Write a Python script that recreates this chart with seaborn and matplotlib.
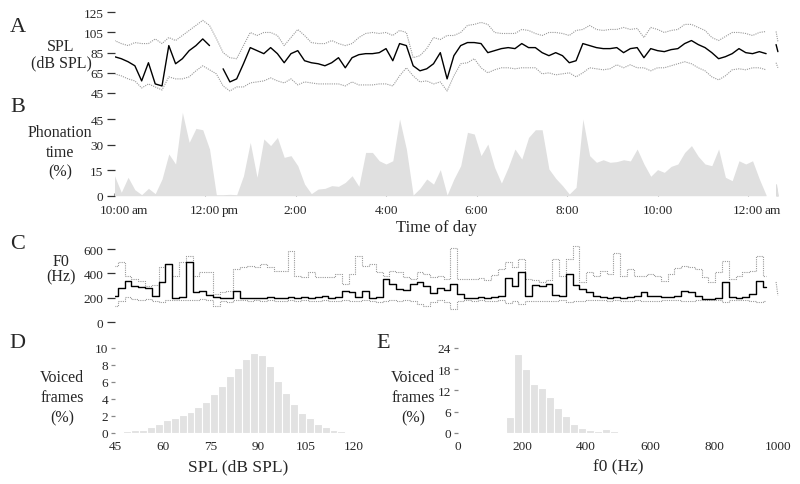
import numpy as np
import pandas as pd
import matplotlib
matplotlib.use('Agg')
import matplotlib.pyplot as plt
import seaborn as sns

# ---------------------------------------------------------------
# data
# ---------------------------------------------------------------
# day traces: one sample every 0.15 h starting at 10:00
t_start = 10.0
t_step = 0.15

# A: SPL (dB SPL) - median and dotted percentile bands
spl_median = [81, 79, 76, 72, 57, 75, 54, 52, 92, 74,
              79, 87, 92, 98.6, 92, np.nan, 69, 56, 59, 74,
              90, 87, 84, 90, 84, 75, 84, 87, 77, 75,
              74, 72, 75, 80, 70, 80, 83, 84, 84, 85,
              89, 77, 94, 92, 72, 67, 69, 74, 85, 59,
              82, 92, 95, 95, 94, 85, 87, 89, 90, 89,
              94, 90, 90, 85, 82, 85, 82, 75, 77, 94,
              92, 90, 89, 89, 90, 85, 89, 90, 80, 89,
              87, 86, 88, 89, 94, 97, 93, 90, 85, 79,
              81, 84, 89, 85, 84, 86, 84]
spl_upper = [97, 94, 92, 95, 94, 94, 98.6, 94, 100, 97,
             102, 107, 112, 117, 112, 99, 85, 80, 79, 92,
             105, 102, 105, 105, 102, 92, 100, 108, 102, 95,
             94, 94, 97, 94, 92, 94, 100, 104, 105, 104,
             105, 102, 107, 105, 80, 82, 89, 100, 98, 102,
             102, 105, 112, 113, 115, 113, 105, 104, 104, 104,
             108, 107, 104, 102, 105, 105, 104, 102, 107, 108,
             112, 108, 107, 108, 108, 110, 108, 109, 100, 110,
             108, 105, 107, 108, 113, 113, 110, 107, 100, 97,
             101, 105, 105, 104, 102, 105, 106]
spl_lower = [64, 62, 59, 57, 50, 54, 51, 48, 61, 59,
             59, 61, 67, 72, 68, 64, 52, 47, 51, 51,
             55, 56, 57, 60, 57, 55, 59, 53, 56, 55,
             54, 54, 54, 54, 52, 56, 53, 53, 53, 54,
             54, 52, 62, 70, 62, 56, 57, 54, 56, 47,
             62, 74, 75, 79, 70, 65, 68, 70, 70, 69,
             70, 70, 70, 64, 65, 63, 64, 65, 61, 65,
             70, 69, 68, 69, 73, 70, 73, 70, 70, 67,
             70, 70, 72, 74, 76, 74, 70, 67, 61, 58,
             62, 68, 69, 68, 70, 70, 68]

# B: phonation time (%)
phonation = [11.7, 2.0, 10.8, 3.5, 0.6, 4.3, 1.2, 9.8, 24.5, 18.6,
             48.9, 31.3, 39.5, 38.7, 27.4, 0.6, 0.6, 0.8, 0.6, 11.7,
             31.3, 10.8, 33.3, 29.4, 34.2, 22.5, 23.5, 17.6, 6.8, 1.2,
             3.9, 4.3, 5.9, 5.5, 7.8, 11.7, 5.5, 25.4, 25.4, 20.5,
             18.6, 20.5, 45.0, 27.4, 0.4, 4.3, 9.8, 6.8, 15.3, 0.4,
             9.8, 17.6, 37.2, 36.2, 23.5, 30.3, 16.6, 7.4, 16.6, 27.4,
             21.5, 34.2, 38.7, 38.7, 15.7, 10.2, 5.9, 1.0, 4.9, 45.0,
             23.5, 19.6, 21.1, 19.6, 20.0, 21.1, 20.4, 27.4, 18.6, 11.4,
             15.3, 13.7, 17.2, 18.6, 25.4, 29.4, 23.1, 18.6, 17.6, 27.4,
             10.8, 8.8, 20.5, 18.6, 20.5, 9.8, 0.4]

# C: F0 (Hz)
f0_median = [218, 277, 340, 294, 286, 277, 218, 326, 476, 196,
             204, 490, 245, 258, 223, 204, 196, 196, 258, 196,
             196, 201, 196, 204, 198, 201, 207, 198, 204, 196,
             204, 218, 201, 207, 258, 245, 204, 258, 201, 204,
             354, 313, 272, 267, 313, 326, 294, 239, 277, 267,
             313, 231, 198, 198, 204, 198, 204, 218, 359, 299,
             408, 218, 305, 294, 313, 223, 212, 394, 305, 272,
             245, 218, 204, 198, 204, 198, 204, 218, 245, 218,
             212, 204, 209, 218, 258, 245, 218, 190, 190, 196,
             326, 204, 198, 204, 231, 340, 286]
f0_upper = [462, 490, 375, 354, 340, 299, 305, 449, 476, 381,
            490, 544, 381, 413, 408, 231, 245, 258, 435, 449,
            462, 449, 476, 449, 422, 422, 585, 381, 367, 413,
            367, 367, 367, 394, 313, 394, 544, 462, 476, 408,
            381, 422, 408, 367, 354, 408, 394, 367, 381, 354,
            612, 354, 354, 354, 359, 348, 386, 435, 490, 449,
            517, 354, 348, 332, 348, 517, 381, 517, 626, 326,
            408, 381, 422, 394, 571, 381, 435, 381, 381, 394,
            381, 340, 394, 441, 462, 449, 435, 367, 326, 408,
            503, 354, 381, 408, 422, 544, 381]
f0_lower = [136, 177, 204, 190, 185, 190, 177, 163, 185, 182,
            180, 185, 185, 190, 180, 136, 177, 169, 182, 180,
            178, 182, 176, 180, 178, 175, 180, 177, 182, 178,
            176, 180, 174, 178, 180, 176, 178, 180, 175, 170,
            178, 182, 177, 185, 177, 150, 136, 163, 182, 169,
            109, 177, 180, 178, 180, 176, 178, 182, 160, 175,
            150, 178, 175, 172, 175, 178, 180, 165, 172, 178,
            180, 182, 180, 178, 180, 176, 178, 180, 178, 176,
            178, 180, 182, 180, 176, 178, 180, 182, 184, 182,
            170, 180, 182, 180, 178, 170, 176]

# short isolated recording just after midnight
tail_hours = [24.62, 24.66]
tail_spl_median = [93, 86]
tail_spl_upper = [106, 96]
tail_spl_lower = [75, 70]
tail_phonation = [6.8, 0.0]
tail_f0_upper = [330, 220]

# D: SPL histogram, 2.5 dB bins from 45 dB
spl_bin_start = 45
spl_bin_width = 2.5
spl_hist = [0.1, 0.2, 0.3, 0.4, 0.7, 1.0, 1.5, 1.8, 2.1, 2.5,
            3.0, 3.6, 4.6, 5.5, 6.7, 7.6, 8.7, 9.4, 9.2, 7.9,
            6.1, 4.7, 3.4, 2.4, 1.8, 1.1, 0.7, 0.4, 0.2, 0.1]

# E: f0 histogram, 25 Hz bins from 0 Hz
f0_bin_width = 25
f0_hist = [0, 0, 0, 0.05, 0.05, 0.05, 4.4, 22.3, 18.1, 13.8,
           12.7, 10.3, 7.0, 4.7, 2.6, 1.5, 0.9, 0.7, 1.0, 0.5,
           0.2, 0.05, 0.05, 0.05, 0.05, 0.05, 0.05, 0.05, 0.05, 0.05,
           0.05, 0.05, 0.05, 0.05, 0.05, 0, 0, 0, 0, 0]

day_ticks = [10, 12, 14, 16, 18, 20, 22, 24]
day_labels = ['10:00', '12:00', '2:00', '4:00', '6:00', '8:00', '10:00', '12:00']
day_suffix = {10: 'am', 12: 'pm', 24: 'am'}

# ---------------------------------------------------------------
sns.set_style('white')
plt.rcParams['font.family'] = ['Liberation Serif', 'DejaVu Serif']

W, H = 800, 485
fig = plt.figure(figsize=(8, 4.85), dpi=100)


def px_axes(left, top, right, bottom):
    return fig.add_axes([left / W, 1 - bottom / H, (right - left) / W, (bottom - top) / H])


def style(ax, yticks, ticklen=6, tickcol='#333333'):
    sns.despine(ax=ax, left=True, bottom=True)
    ax.set_yticks(yticks)
    ax.tick_params(axis='y', left=True, direction='out', length=ticklen, width=0.9,
                   color=tickcol, pad=2, labelsize=9.5)
    ax.set_xlabel('')
    ax.set_ylabel('')


def label(x, y, s, size=11.5):
    fig.text(x / W, 1 - y / H, s, ha='center', va='center', fontsize=size)


def stacked(x, ys, lines, size=11.5):
    # one text per line, so every line keeps its own box
    for y, s in zip(ys, lines):
        label(x, y, s, size)


def hist_panel(ax, start, width, pct):
    n = len(pct)
    df = pd.DataFrame({'center': start + width * (np.arange(n) + 0.5), 'pct': pct})
    sns.histplot(data=df, x='center', weights='pct', binwidth=width,
                 binrange=(start, start + width * n),
                 color='#e2e2e2', edgecolor='white', linewidth=0.8, alpha=1, ax=ax)


hours = t_start + t_step * np.arange(len(spl_median))
dotted = dict(color='#9a9a9a', lw=0.8, linestyle=(0, (1, 1)))
solid = dict(color='black', lw=1.0)

# ---- A: SPL trace
axA = px_axes(114.5, 13.3, 779.7, 94)
dfA = pd.DataFrame({'hour': hours, 'med': spl_median, 'hi': spl_upper, 'lo': spl_lower})
dfA['seg'] = dfA['med'].isna().cumsum()
for col in ['hi', 'lo']:
    sns.lineplot(data=dfA, x='hour', y=col, estimator=None, ax=axA, **dotted)
sns.lineplot(data=dfA.dropna(), x='hour', y='med', units='seg', estimator=None, ax=axA, **solid)
for vals, kw in [(tail_spl_upper, dotted), (tail_spl_lower, dotted), (tail_spl_median, solid)]:
    sns.lineplot(x=tail_hours, y=vals, estimator=None, ax=axA, **kw)
axA.set_xlim(10, 24.7)
axA.set_ylim(45, 125)
axA.set_xticks([])
style(axA, [45, 65, 85, 105, 125])

# ---- B: phonation time
axB = px_axes(114.5, 111.5, 779.7, 196.7)
axB.fill_between(hours, phonation, color='#e0e0e0', lw=0)
axB.fill_between(tail_hours, tail_phonation, color='#e0e0e0', lw=0.6, edgecolor='#d8d8d8')
axB.set_xlim(10, 24.7)
axB.set_ylim(0, 50)
style(axB, [0, 15, 30, 45])
axB.set_xticks(day_ticks)
axB.set_xticklabels(day_labels)
axB.tick_params(axis='x', bottom=True, direction='in', length=2, color='#999999',
                pad=6, labelsize=9.5)
for h, suf in day_suffix.items():
    axB.annotate(suf, xy=(h, 0), xycoords=('data', 'axes fraction'),
                 xytext=(12, -6), textcoords='offset points',
                 ha='left', va='top', fontsize=9.5)
label(436, 228, 'Time of day', size=12)

# ---- C: F0 trace (stepped)
axC = px_axes(114.5, 243.9, 779.7, 323.3)
dfC = pd.DataFrame({'hour': hours, 'med': f0_median, 'hi': f0_upper, 'lo': f0_lower})
for col in ['hi', 'lo']:
    sns.lineplot(data=dfC, x='hour', y=col, estimator=None, ax=axC,
                 drawstyle='steps-mid', **dotted)
sns.lineplot(data=dfC, x='hour', y='med', estimator=None, ax=axC,
             drawstyle='steps-mid', **solid)
sns.lineplot(x=tail_hours, y=tail_f0_upper, estimator=None, ax=axC, **dotted)
axC.set_xlim(10, 24.7)
axC.set_ylim(0, 650)
axC.set_xticks([])
style(axC, [0, 200, 400, 600])

# ---- D: SPL histogram
axD = px_axes(115, 346.4, 361.3, 434)
hist_panel(axD, spl_bin_start, spl_bin_width, spl_hist)
axD.set_xlim(45, 122.5)
axD.set_ylim(0, 10.3)
style(axD, [0, 2, 4, 6, 8, 10], ticklen=3, tickcol='#888888')
axD.set_xticks([45, 60, 75, 90, 105, 120])
axD.tick_params(axis='x', length=0, pad=5, labelsize=9.5)
label(238, 467, 'SPL (dB SPL)', size=12.5)

# ---- E: f0 histogram
axE = px_axes(458, 346.5, 778, 434)
hist_panel(axE, 0, f0_bin_width, f0_hist)
axE.set_xlim(0, 1000)
axE.set_ylim(0, 24.7)
style(axE, [0, 6, 12, 18, 24], ticklen=3, tickcol='#888888')
axE.set_xticks([0, 200, 400, 600, 800, 1000])
axE.tick_params(axis='x', length=0, pad=5, labelsize=9.5)
label(618, 467, 'f0 (Hz)', size=12.5)

# ---- side labels and panel letters
stacked(61, [47, 63], ['SPL', '(dB SPL)'])
stacked(60, [133, 153, 172], ['Phonation', 'time', '(%)'])
stacked(61, [262, 277], ['F0', '(Hz)'])
stacked(62, [378, 398, 418], ['Voiced', 'frames', '(%)'])
stacked(413, [378, 398, 418], ['Voiced', 'frames', '(%)'])
for x, y, s in [(18, 27, 'A'), (18, 108, 'B'), (18, 245, 'C'), (17, 343, 'D'), (383, 343, 'E')]:
    label(x, y, s, size=16)

fig.savefig('out.png', dpi=100, facecolor='white')
